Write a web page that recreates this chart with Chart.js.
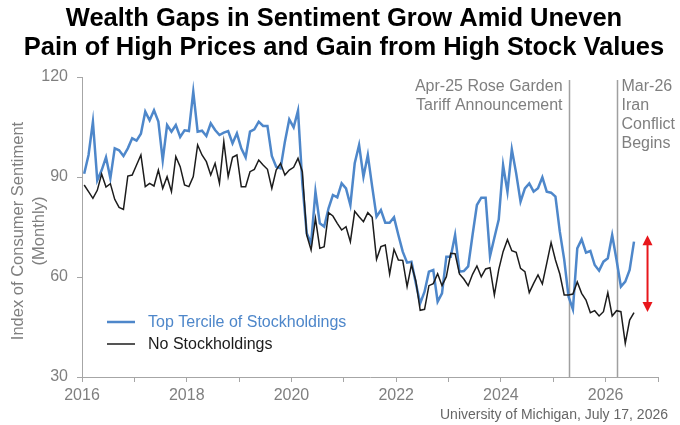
<!DOCTYPE html>
<html>
<head>
<meta charset="utf-8">
<style>
  html, body { margin: 0; padding: 0; background: #fff; }
  #wrap { width: 680px; height: 425px; }
</style>
<script src="https://cdn.jsdelivr.net/npm/chart.js@4.4.1/dist/chart.umd.min.js"></script>
</head>
<body>
<div id="wrap"><canvas id="chart" width="680" height="425"></canvas></div>
<script>
// Monthly index values, Jan 2016 .. Jul 2026
const startYear = 2016;
const topTercile = [
  91, 96.6, 106.6, 89, 92, 95.9, 89.6, 98.6, 98, 96.3, 98.6, 101.6,
  100.9, 103, 109.6, 107, 110, 106.6, 95, 105.6, 103.6, 105.6, 102, 104,
  103.8, 115.6, 103.6, 103.9, 102.3, 106.1, 104.1, 102.6, 103.3, 103.8, 100.1, 103.1,
  98.6, 95.9, 103.6, 104.3, 106.6, 105.3, 105.3, 96.3, 93.1, 92.6, 100.6, 107.3,
  104.9, 109.9, 88, 73.1, 70.1, 85.6, 76.1, 75.1, 80.6, 84.6, 83.9, 88.1,
  86.6, 81.6, 94.1, 99.6, 90.1, 96.6, 87.1, 78.1, 80.1, 76.3, 76.3, 77.9,
  72.6, 67.6, 64.3, 64.6, 58.1, 52.1, 55.6, 61.6, 62.1, 52.6, 55.1, 66.1,
  66.1, 72.6, 61.6, 61.8, 63.2, 72.6, 81.6, 83.8, 83.8, 66.2, 71.8, 77.2,
  93.6, 85.6, 98.3, 91.1, 82.6, 86.6, 88.1, 85.6, 86.6, 89.9, 85.6, 85.3,
  84.1, 73.6, 65.3, 54.1, 50.3, 68.6, 71.3, 67.3, 67.8, 63.6, 61.9, 64.6,
  65.6, 72.6, 65.1, 57.1, 58.6, 62.1, 70.6
];
const noStock = [
  87.6, 85.6, 83.6, 86, 90.9, 87, 88, 83.3, 80.9, 80.3, 90.3, 90.6,
  93.6, 96.6, 87.1, 88.1, 87.3, 92.1, 86.6, 90.1, 85.6, 96.1, 93.1, 87.6,
  87.1, 90.1, 99.6, 96.6, 94.6, 90.6, 94.1, 88.1, 100.6, 90.1, 95.9, 96.6,
  87.1, 87.1, 91.6, 92.3, 95.1, 93.6, 92.3, 86.6, 92.1, 94.1, 90.6, 92.1,
  92.9, 95.6, 91.6, 72.6, 68.1, 77.6, 68.6, 69.1, 79.3, 78.3, 76.1, 74.1,
  75.1, 70.6, 79.7, 78.1, 76.6, 79.3, 77.9, 65.3, 69.1, 69.6, 60.9, 68.3,
  65.1, 65.0, 57.1, 63.7, 58.8, 50.0, 50.3, 57.4, 58.0, 61.0, 57.4, 60.1,
  67.1, 67.0, 60.9, 59.4, 57.4, 60.8, 63.3, 60.1, 62.4, 62.8, 54.6, 62.2,
  67.6, 71.2, 67.9, 67.4, 62.6, 61.6, 55.3, 58.1, 60.6, 57.9, 64.1, 70.3,
  65.1, 60.9, 54.6, 54.6, 54.9, 58.5, 55.1, 53.1, 49.3, 49.9, 48.3, 49.6,
  55.3, 48.3, 49.9, 49.6, 40.1, 47.1, 49.3
];
const seriesNames = ['Top Tercile of Stockholdings', 'No Stockholdings'];
const yTicks = [30, 60, 90, 120];
const xRange = [2016, 2027];

// event markers: year, month (1-12), label lines
const events = [
  { year: 2025, month: 4, lines: ['Apr-25 Rose Garden', 'Tariff Announcement'], side: 'left' },
  { year: 2026, month: 3, lines: ['Mar-26', 'Iran', 'Conflict', 'Begins'], side: 'right' }
];
// red double arrow showing latest gap
const gapArrow = { year: 2026.8, top: 72.5, bottom: 49.5 };

const titleLines = ['Wealth Gaps in Sentiment Grow Amid Uneven', 'Pain of High Prices and Gain from High Stock Values'];
const yTitle = ['Index of Consumer Sentiment', '(Monthly)'];
const sourceNote = 'University of Michigan, July 17, 2026';

const FONT = '"Liberation Sans", Arial, sans-serif';
const GRAY = '#7f7f7f';
const AXIS = '#a6a6a6';
const BLUE = '#4e87ca';
const BLACK = '#1c1c1c';

const monthX = (y, m) => y + (m - 0.5) / 12;
const toPoints = arr => arr.map((v, i) => ({ x: startYear + (i + 0.5) / 12, y: v }));

const overlay = {
    id: 'overlay',
    beforeDatasetsDraw(chart) {
        const { ctx, chartArea, scales } = chart;
        ctx.save();
        ctx.strokeStyle = '#a0a0a0';
        ctx.lineWidth = 1.5;
        events.forEach(ev => {
            const px = Math.round(scales.x.getPixelForValue(monthX(ev.year, ev.month))) + 0.5;
            ctx.beginPath();
            ctx.moveTo(px, chartArea.top + 3);
            ctx.lineTo(px, chartArea.bottom);
            ctx.stroke();
        });
        ctx.restore();
    },
    afterDatasetsDraw(chart) {
        const { ctx, chartArea, scales } = chart;
        ctx.save();

        // event labels
        ctx.font = '16px ' + FONT;
        ctx.fillStyle = GRAY;
        ctx.textBaseline = 'middle';
        events.forEach(ev => {
            const px = scales.x.getPixelForValue(monthX(ev.year, ev.month));
            ctx.textAlign = ev.side === 'left' ? 'right' : 'left';
            const tx = ev.side === 'left' ? px - 6 : px + 5;
            ev.lines.forEach((line, i) => {
                ctx.fillText(line, tx, chartArea.top + 10 + i * 19);
            });
        });

        // red arrow
        const ax = scales.x.getPixelForValue(gapArrow.year);
        const ay1 = scales.y.getPixelForValue(gapArrow.top);
        const ay2 = scales.y.getPixelForValue(gapArrow.bottom);
        ctx.strokeStyle = '#e8161b';
        ctx.fillStyle = '#e8161b';
        ctx.lineWidth = 2;
        ctx.beginPath();
        ctx.moveTo(ax, ay1 + 8);
        ctx.lineTo(ax, ay2 - 8);
        ctx.stroke();
        ctx.beginPath();
        ctx.moveTo(ax, ay1);
        ctx.lineTo(ax - 5, ay1 + 10);
        ctx.lineTo(ax + 5, ay1 + 10);
        ctx.closePath();
        ctx.fill();
        ctx.beginPath();
        ctx.moveTo(ax, ay2);
        ctx.lineTo(ax - 5, ay2 - 10);
        ctx.lineTo(ax + 5, ay2 - 10);
        ctx.closePath();
        ctx.fill();

        // legend
        const lx = chartArea.left + 25;
        const ly = chartArea.bottom - 55;
        const colors = [BLUE, BLACK];
        const widths = [2.5, 1.5];
        ctx.font = '16px ' + FONT;
        ctx.textAlign = 'left';
        seriesNames.forEach((name, i) => {
            const y = ly + i * 22;
            ctx.strokeStyle = colors[i];
            ctx.lineWidth = widths[i];
            ctx.beginPath();
            ctx.moveTo(lx, y);
            ctx.lineTo(lx + 28, y);
            ctx.stroke();
            ctx.fillStyle = colors[i];
            ctx.fillText(name, lx + 41, y + 1);
        });
        ctx.restore();
    },
    afterDraw(chart) {
        const { ctx, chartArea } = chart;
        ctx.save();
        // title
        ctx.fillStyle = '#000';
        ctx.font = 'bold 25.5px ' + FONT;
        ctx.textAlign = 'center';
        ctx.textBaseline = 'middle';
        titleLines.forEach((t, i) => ctx.fillText(t, 344, 19 + i * 29));

        // y axis title
        ctx.fillStyle = GRAY;
        ctx.font = '16.5px ' + FONT;
        ctx.translate(0, (chartArea.top + chartArea.bottom) / 2 + 4);
        ctx.rotate(-Math.PI / 2);
        yTitle.forEach((t, i) => ctx.fillText(t, 0, 18 + i * 21));
        ctx.restore();

        // source
        ctx.save();
        ctx.fillStyle = '#666';
        ctx.font = '14px ' + FONT;
        ctx.textAlign = 'right';
        ctx.textBaseline = 'middle';
        ctx.fillText(sourceNote, 668, 415);
        ctx.restore();
    }
};

new Chart(document.getElementById('chart'), {
    type: 'line',
    data: {
        datasets: [
            {
                label: seriesNames[1],
                data: toPoints(noStock),
                borderColor: BLACK,
                borderWidth: 1.5,
                pointRadius: 0,
                tension: 0,
                order: 0
            },
            {
                label: seriesNames[0],
                data: toPoints(topTercile),
                borderColor: BLUE,
                borderWidth: 2.5,
                pointRadius: 0,
                tension: 0,
                order: 1
            }
        ]
    },
    options: {
        responsive: false,
        animation: false,
        devicePixelRatio: 1,
        layout: { padding: { top: 77, right: 22, left: 0, bottom: 0 } },
        plugins: {
            legend: { display: false },
            title: { display: false },
            tooltip: { enabled: false }
        },
        scales: {
            x: {
                type: 'linear',
                min: xRange[0],
                max: xRange[1],
                afterFit: s => { s.height = 48; },
                border: { color: AXIS, width: 1 },
                grid: { drawOnChartArea: false, tickLength: 5, color: AXIS },
                ticks: {
                    stepSize: 1,
                    autoSkip: false,
                    maxRotation: 0,
                    padding: 4,
                    color: GRAY,
                    font: { family: FONT, size: 16 },
                    callback: v => (v % 2 === 0 ? String(v) : '')
                }
            },
            y: {
                min: yTicks[0],
                max: yTicks[yTicks.length - 1],
                afterFit: s => { s.width = 82; },
                afterBuildTicks: s => { s.ticks = yTicks.map(v => ({ value: v })); },
                border: { color: AXIS, width: 1 },
                grid: { drawOnChartArea: false, tickLength: 5, color: AXIS },
                ticks: {
                    padding: 9,
                    color: GRAY,
                    font: { family: FONT, size: 16 }
                }
            }
        }
    },
    plugins: [overlay]
});
</script>
</body>
</html>
